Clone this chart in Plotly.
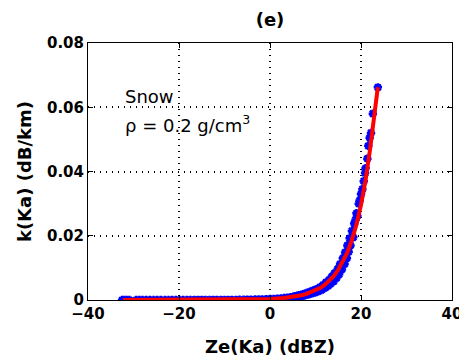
import plotly.graph_objects as go

# ---- data ----
ze_scatter = [-32.5, -32.0, -31.5, -30.9, -29.4, -28.7, -28.0, -27.2, -26.4, -25.6,
              -24.8, -24.0, -23.1, -22.3, -21.5, -20.7, -19.9, -19.1, -18.3, -17.5,
              -16.6, -15.8, -15.0, -14.2, -13.3, -12.5, -11.7, -10.8, -10.0, -9.2,
              -8.4, -7.5, -6.7, -5.8, -5.0, -4.2, -3.3, -2.5, -1.7, -0.8,
              0.0, 0.8, 1.6, 2.4, 3.1, 3.8, 4.5, 5.2,
              5.5, 6.0, 6.3, 6.8, 7.2, 7.6, 8.0, 8.4, 8.8, 9.1,
              9.5, 9.9, 10.2, 10.6, 11.0, 11.3, 11.7, 12.0, 12.3, 12.7,
              13.0, 13.3, 13.6, 14.0, 14.2, 14.6, 14.9, 15.2, 15.4, 15.8,
              16.0, 16.4, 16.5, 16.9, 17.0, 17.3, 17.5, 17.7, 18.0, 18.3,
              18.5, 18.8, 19.0, 19.2, 19.5, 19.7, 20.0, 20.3, 20.6, 20.9,
              21.0, 21.4, 21.6, 21.9, 22.2, 22.6, 23.7]
k_scatter = [0.00000, 0.00000, 0.00000, 0.00000, 0.00000, 0.00000, 0.00000, 0.00000, 0.00000, 0.00000,
             0.00000, 0.00000, 0.00000, 0.00000, 0.00000, 0.00000, 0.00000, 0.00000, 0.00000, 0.00001,
             0.00001, 0.00001, 0.00001, 0.00001, 0.00001, 0.00002, 0.00002, 0.00002, 0.00003, 0.00004,
             0.00004, 0.00005, 0.00006, 0.00008, 0.00009, 0.00011, 0.00014, 0.00017, 0.00020, 0.00025,
             0.00030, 0.00036, 0.00043, 0.00052, 0.00061, 0.00072, 0.00085, 0.00099,
             0.0012, 0.0009, 0.0015, 0.0011, 0.0018, 0.0014, 0.0022, 0.0017, 0.0026, 0.0020,
             0.0030, 0.0023, 0.0034, 0.0027, 0.0040, 0.0031, 0.0047, 0.0037, 0.0055, 0.0043,
             0.0063, 0.0050, 0.0073, 0.0058, 0.0084, 0.0068, 0.0097, 0.0080, 0.0112, 0.0095,
             0.0130, 0.0112, 0.0148, 0.0130, 0.0170, 0.0150, 0.0192, 0.0170, 0.0215, 0.0195,
             0.0238, 0.0250, 0.0270, 0.0262, 0.0300, 0.0310, 0.0330, 0.0345, 0.0370, 0.0395,
             0.0410, 0.0440, 0.0480, 0.0505, 0.0520, 0.0580, 0.0662]

ze_fit = [-32.3, -25.0, -20.0, -15.0, -10.0, -5.0, 0.0, 3.0, 5.0, 7.0, 8.0, 10.0, 11.0, 12.0, 13.0,
          14.0, 15.0, 16.0, 17.0, 18.0, 19.0, 20.0, 21.0, 22.0, 23.0, 23.7]
k_fit = [0.00000, 0.00001, 0.00001, 0.00001, 0.00003, 0.00009, 0.00030, 0.00060, 0.00095, 0.0015,
         0.0019, 0.0030, 0.0037, 0.0047, 0.0059, 0.0074, 0.0094, 0.0118, 0.0148, 0.0187,
         0.0235, 0.0296, 0.0373, 0.0470, 0.0590, 0.0662]

x_ticks = [-40, -20, 0, 20, 40]
y_ticks = [0, 0.02, 0.04, 0.06, 0.08]
y_tick_labels = ["0", "0.02", "0.04", "0.06", "0.08"]

FONT = "DejaVu Sans"

fig = go.Figure()
fig.add_trace(go.Scatter(
    x=ze_scatter, y=k_scatter, mode="markers",
    marker=dict(symbol="asterisk-open", size=7, color="#0000ff",
                line=dict(color="#0000ff", width=2.5)),
    showlegend=False))
fig.add_trace(go.Scatter(
    x=ze_fit, y=k_fit, mode="lines",
    line=dict(color="#ff0000", width=4), showlegend=False))

fig.add_annotation(x=-32.3, y=0.0632, xref="x", yref="y", text="Snow",
                   showarrow=False, xanchor="left", yanchor="middle",
                   font=dict(family=FONT, size=18, color="black"))
fig.add_annotation(x=-32.3, y=0.0548, xref="x", yref="y",
                   text="ρ = 0.2 g/cm<sup>3</sup>",
                   showarrow=False, xanchor="left", yanchor="middle",
                   font=dict(family=FONT, size=18, color="black"))

axis_common = dict(
    showline=True, linecolor="black", linewidth=1, mirror="ticks",
    ticks="inside", ticklen=5, tickcolor="black",
    showgrid=True, gridcolor="black", griddash="1px,5px", gridwidth=1.5,
    zeroline=False, ticklabeloverflow="allow", automargin=False,
    tickfont=dict(family=FONT, size=15, color="black", weight="bold"),
)

fig.update_xaxes(range=[-40, 40], tickvals=x_ticks,
                 title=dict(text="<b>Ze(Ka) (dBZ)</b>", standoff=18,
                            font=dict(family=FONT, size=18, color="black")),
                 **axis_common)
fig.update_yaxes(range=[0, 0.08], tickvals=y_ticks, ticktext=y_tick_labels,
                 title=dict(text="<b>k(Ka) (dB/km)</b>", standoff=10,
                            font=dict(family=FONT, size=18, color="black")),
                 **axis_common)

fig.update_layout(
    width=459, height=362,
    margin=dict(l=88, r=7, t=43, b=62),
    paper_bgcolor="white", plot_bgcolor="white",
    title=dict(text="<b>(e)</b>", x=270/459, xanchor="center", y=1-20/362, yanchor="middle",
               font=dict(family=FONT, size=18, color="black")),
)

fig.write_html("out.html")
